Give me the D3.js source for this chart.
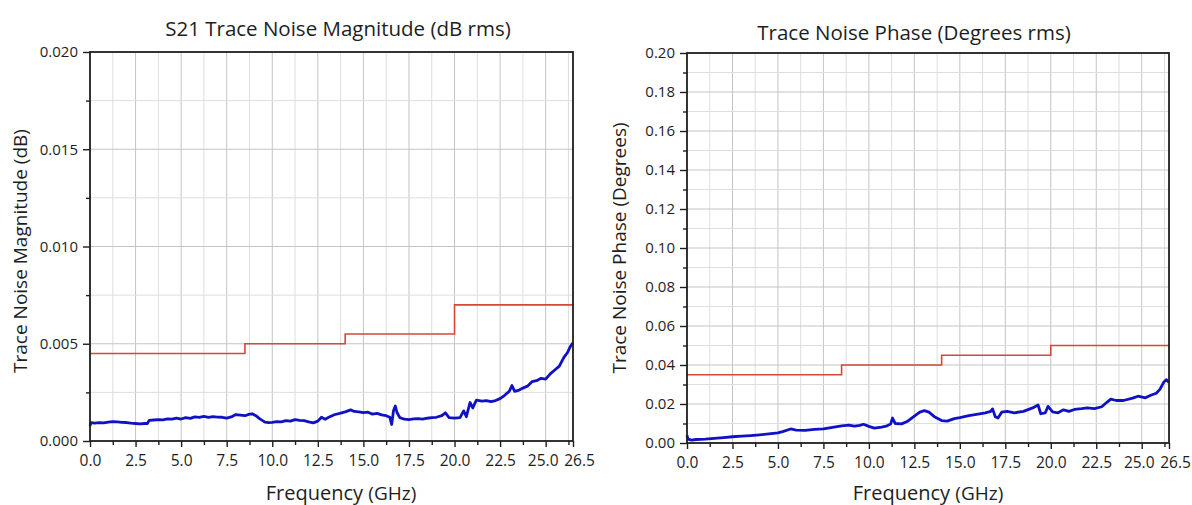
<!DOCTYPE html>
<html>
<head>
<meta charset="utf-8">
<style>
  body { margin: 0; background: #fff; }
  svg text { font-family: "Open Sans", "Noto Sans", sans-serif; fill: #1e1e1e; }
  .axis path, .axis line { stroke: #1e1e1e; }
</style>
</head>
<body>
<svg id="chart" width="1192" height="505"></svg>
<script src="https://d3js.org/d3.v7.min.js"></script>
<script>
// ---- data ----
// S21 trace noise magnitude (dB rms), blue measured trace
const magFreq = [0, 0.05, 0.25, 0.5, 0.75, 1, 1.25, 1.5, 1.75, 2, 2.25, 2.5, 2.75, 3, 3.15, 3.25, 3.5, 3.75, 4, 4.25,
  4.5, 4.75, 5, 5.25, 5.5, 5.75, 6, 6.25, 6.5, 6.75, 7, 7.25, 7.5, 7.75, 8, 8.25, 8.5, 8.75, 8.9, 9.1,
  9.3, 9.6, 9.8, 10, 10.25, 10.5, 10.75, 11, 11.25, 11.5, 11.75, 12, 12.25, 12.5, 12.7, 12.9, 13.1, 13.4, 13.7, 14,
  14.3, 14.5, 14.75, 15, 15.25, 15.5, 15.75, 16, 16.25, 16.45, 16.55, 16.65, 16.75, 16.85, 17, 17.25, 17.5, 17.75, 18, 18.25,
  18.5, 18.75, 19, 19.3, 19.5, 19.7, 20, 20.3, 20.5, 20.65, 20.85, 21, 21.2, 21.5, 21.75, 22, 22.25, 22.5, 22.75, 23,
  23.15, 23.3, 23.5, 23.75, 24, 24.25, 24.5, 24.75, 25, 25.25, 25.5, 25.75, 26, 26.2, 26.35, 26.5];
const magValue = [0.00078, 0.00095, 0.00092, 0.00094, 0.00093, 0.00097, 0.00100, 0.00098, 0.00096, 0.00095, 0.00092, 0.00090, 0.00088, 0.00090, 0.00090, 0.00106, 0.00108, 0.00110, 0.00109, 0.00114,
  0.00112, 0.00118, 0.00113, 0.00120, 0.00116, 0.00124, 0.00122, 0.00126, 0.00121, 0.00125, 0.00123, 0.00122, 0.00118, 0.00124, 0.00136, 0.00133, 0.00130, 0.00138, 0.00140, 0.00130,
  0.00115, 0.00097, 0.00095, 0.00096, 0.00100, 0.00098, 0.00105, 0.00102, 0.00110, 0.00106, 0.00105, 0.00098, 0.00093, 0.00102, 0.00122, 0.00112, 0.00122, 0.00135, 0.00142, 0.00150,
  0.00160, 0.00152, 0.00150, 0.00146, 0.00148, 0.00138, 0.00142, 0.00134, 0.00130, 0.00122, 0.00085, 0.00155, 0.00180, 0.00145, 0.00120, 0.00112, 0.00110, 0.00114, 0.00115, 0.00112,
  0.00117, 0.00120, 0.00122, 0.00130, 0.00145, 0.00120, 0.00118, 0.00120, 0.00155, 0.00125, 0.00198, 0.00170, 0.00210, 0.00205, 0.00208, 0.00202, 0.00208, 0.00218, 0.00235, 0.00255,
  0.00285, 0.00255, 0.00260, 0.00272, 0.00282, 0.00305, 0.00310, 0.00322, 0.00318, 0.00345, 0.00365, 0.00385, 0.00430, 0.00455, 0.00485, 0.00505];
// spec limit for magnitude (step line)
const magLimitFreq = [0, 8.5, 14, 20, 26.5];
const magLimitValue = [0.0045, 0.005, 0.0055, 0.007, 0.007];

// trace noise phase (degrees rms), blue measured trace
const phaseFreq = [0, 0.05, 0.25, 0.5, 1, 1.5, 2, 2.5, 3, 3.5, 4, 4.5, 5, 5.3, 5.7, 6, 6.5, 7, 7.5, 8,
  8.5, 8.9, 9.2, 9.5, 9.7, 10, 10.3, 10.7, 11, 11.2, 11.3, 11.45, 11.8, 12.1, 12.5, 12.8, 13.05, 13.3, 13.6, 14,
  14.3, 14.7, 15, 15.5, 16, 16.4, 16.7, 16.8, 16.95, 17.1, 17.3, 17.6, 18, 18.5, 19, 19.3, 19.45, 19.7, 19.85, 20.1,
  20.4, 20.7, 21, 21.3, 21.7, 22, 22.4, 22.8, 23.1, 23.3, 23.6, 24, 24.5, 24.8, 25.2, 25.5, 25.8, 26, 26.2, 26.35, 26.5];
const phaseValue = [0.0040, 0.0020, 0.0015, 0.0018, 0.0020, 0.0024, 0.0028, 0.0032, 0.0035, 0.0038, 0.0042, 0.0047, 0.0052, 0.0060, 0.0072, 0.0066, 0.0065, 0.0070, 0.0072, 0.0080,
  0.0088, 0.0092, 0.0086, 0.0090, 0.0096, 0.0085, 0.0076, 0.0082, 0.0088, 0.0098, 0.0128, 0.0100, 0.0098, 0.0110, 0.0138, 0.0158, 0.0166, 0.0158, 0.0135, 0.0115,
  0.0112, 0.0125, 0.0130, 0.0140, 0.0148, 0.0155, 0.0162, 0.0175, 0.0135, 0.0128, 0.0158, 0.0162, 0.0155, 0.0162, 0.0180, 0.0195, 0.0150, 0.0155, 0.0188, 0.0160,
  0.0155, 0.0170, 0.0162, 0.0172, 0.0176, 0.0180, 0.0176, 0.0186, 0.0210, 0.0225, 0.0218, 0.0218, 0.0230, 0.0240, 0.0232, 0.0245, 0.0255, 0.0275, 0.0310, 0.0325, 0.0310];
// spec limit for phase (step line)
const phaseLimitFreq = [0, 8.5, 14, 20, 26.5];
const phaseLimitValue = [0.035, 0.04, 0.045, 0.05, 0.05];

// axis ticks
const xMajorTicks = [0, 2.5, 5, 7.5, 10, 12.5, 15, 17.5, 20, 22.5, 25, 26.5];
const xMinorTicks = [1.25, 3.75, 6.25, 8.75, 11.25, 13.75, 16.25, 18.75, 21.25, 23.75, 26.25];
const xGrid = [1.25, 2.5, 3.75, 5, 6.25, 7.5, 8.75, 10, 11.25, 12.5, 13.75, 15, 16.25, 17.5, 18.75, 20, 21.25, 22.5, 23.75, 25, 26.25];
const magYMajor = [0, 0.005, 0.01, 0.015, 0.02];
const magYMinor = [0.0025, 0.0075, 0.0125, 0.0175];
const phaseYMajor = [0, 0.02, 0.04, 0.06, 0.08, 0.10, 0.12, 0.14, 0.16, 0.18, 0.20];
const phaseYMinor = [0.01, 0.03, 0.05, 0.07, 0.09, 0.11, 0.13, 0.15, 0.17, 0.19];

const svg = d3.select('#chart');

function drawPanel(cfg) {
  const g = svg.append('g');
  const x = d3.scaleLinear().domain([0, 26.5]).range([cfg.left, cfg.right]);
  const y = d3.scaleLinear().domain([0, cfg.yMax]).range([cfg.bottom, cfg.top]);

  // grid
  const gridMajorX = xMajorTicks.filter(d => d > 0 && d < 26.5);
  g.selectAll('.vgrid').data(xGrid).join('line')
    .attr('x1', d => x(d)).attr('x2', d => x(d))
    .attr('y1', cfg.top).attr('y2', cfg.bottom)
    .attr('stroke', d => gridMajorX.includes(d) ? '#c4c4c4' : '#dedede')
    .attr('stroke-width', 1);
  const hGrid = cfg.yMajor.concat(cfg.yMinor).filter(d => d > 0 && d < cfg.yMax);
  g.selectAll('.hgrid').data(hGrid).join('line')
    .attr('x1', cfg.left).attr('x2', cfg.right)
    .attr('y1', d => y(d)).attr('y2', d => y(d))
    .attr('stroke', d => cfg.yMajor.includes(d) ? '#c4c4c4' : '#dedede')
    .attr('stroke-width', 1);

  // limit step line
  const limitPts = cfg.limitFreq.map((f, i) => [f, cfg.limitValue[i]]);
  g.append('path')
    .attr('d', d3.line().x(d => x(d[0])).y(d => y(d[1])).curve(d3.curveStepAfter)(limitPts))
    .attr('fill', 'none').attr('stroke', '#d5473d').attr('stroke-width', 1.6);

  // measured trace
  const tracePts = cfg.freq.map((f, i) => [f, cfg.value[i]]);
  g.append('path')
    .attr('d', d3.line().x(d => x(d[0])).y(d => y(d[1]))(tracePts))
    .attr('fill', 'none').attr('stroke', '#1010c4').attr('stroke-width', 2.8)
    .attr('stroke-linejoin', 'round');

  // axes
  const yMinorAxis = g.append('g').attr('class', 'axis')
    .attr('transform', `translate(${cfg.left},0)`)
    .call(d3.axisLeft(y).tickValues(cfg.yMinor).tickSize(4).tickFormat(''));
  yMinorAxis.select('.domain').remove();
  const yAxis = g.append('g').attr('class', 'axis')
    .attr('transform', `translate(${cfg.left},0)`)
    .call(d3.axisLeft(y).tickValues(cfg.yMajor).tickSize(7).tickPadding(5).tickFormat(d3.format(cfg.yFormat)));
  yAxis.selectAll('text').attr('font-size', 15);
  yAxis.select('.domain').remove();

  const xMinorAxis = g.append('g').attr('class', 'axis')
    .attr('transform', `translate(0,${cfg.bottom})`)
    .call(d3.axisBottom(x).tickValues(xMinorTicks).tickSize(4).tickFormat(''));
  xMinorAxis.select('.domain').remove();
  const xAxis = g.append('g').attr('class', 'axis')
    .attr('transform', `translate(0,${cfg.bottom})`)
    .call(d3.axisBottom(x).tickValues(xMajorTicks).tickSize(6).tickPadding(8).tickFormat(d3.format('.1f')));
  xAxis.selectAll('text').attr('font-size', 15.5)
    .attr('dx', d => d === 26.5 ? 6 : (d === 25 ? -3 : 0));
  xAxis.select('.domain').remove();
  g.selectAll('.axis line').attr('stroke-width', 1.4);

  // frame
  g.append('rect')
    .attr('x', cfg.left).attr('y', cfg.top)
    .attr('width', cfg.right - cfg.left).attr('height', cfg.bottom - cfg.top)
    .attr('fill', 'none').attr('stroke', '#1e1e1e').attr('stroke-width', 1.8);

  // titles
  g.append('text').attr('x', cfg.titleX).attr('y', cfg.titleY)
    .attr('text-anchor', 'middle').attr('font-size', cfg.titleSize).text(cfg.title);
  const xl = g.append('text').attr('x', cfg.xLabelX).attr('y', 500)
    .attr('text-anchor', 'middle').attr('font-size', 20);
  xl.append('tspan').text('Frequency ');
  xl.append('tspan').attr('font-size', 19).text('(GHz)');
  g.append('text')
    .attr('transform', `translate(${cfg.yLabelX},${cfg.yLabelY}) rotate(-90)`)
    .attr('text-anchor', 'middle').attr('font-size', 19).text(cfg.yLabel);
}

drawPanel({
  left: 90, right: 573, top: 52, bottom: 441, yMax: 0.02,
  yMajor: magYMajor, yMinor: magYMinor, yFormat: '.3f',
  freq: magFreq, value: magValue, limitFreq: magLimitFreq, limitValue: magLimitValue,
  title: 'S21 Trace Noise Magnitude (dB rms)', titleX: 338, titleY: 36, titleSize: 20.5,
  xLabelX: 341, yLabel: 'Trace Noise Magnitude (dB)', yLabelX: 27, yLabelY: 251
});

drawPanel({
  left: 687, right: 1169, top: 53, bottom: 443, yMax: 0.2,
  yMajor: phaseYMajor, yMinor: phaseYMinor, yFormat: '.2f',
  freq: phaseFreq, value: phaseValue, limitFreq: phaseLimitFreq, limitValue: phaseLimitValue,
  title: 'Trace Noise Phase (Degrees rms)', titleX: 914, titleY: 40, titleSize: 20.5,
  xLabelX: 928, yLabel: 'Trace Noise Phase (Degrees)', yLabelX: 626, yLabelY: 248
});
</script>
</body>
</html>
